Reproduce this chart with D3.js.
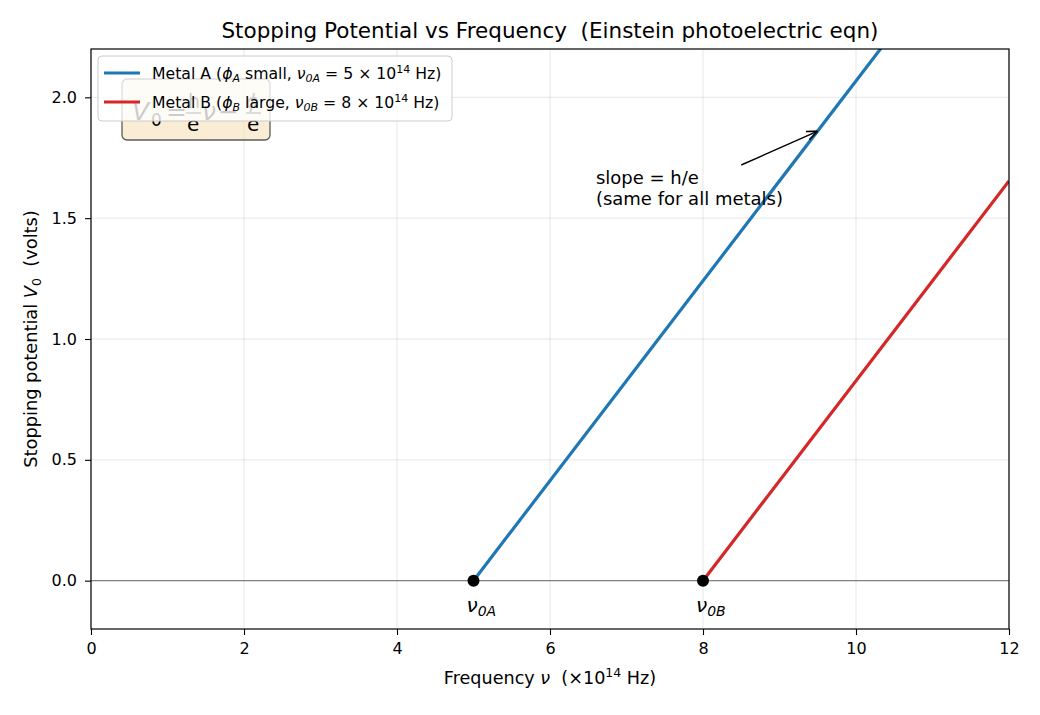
<!DOCTYPE html>
<html>
<head>
<meta charset="utf-8">
<style>
  body { margin: 0; background: #fff; }
  svg text { font-family: "DejaVu Sans", sans-serif; fill: #000; white-space: pre; }
</style>
<script src="https://cdn.jsdelivr.net/npm/d3@7"></script>
</head>
<body>
<div id="chart"></div>
<script>
// ---- data ----
var seriesNames = ["Metal A", "Metal B"];
var seriesColors = ["#1f77b4", "#d62728"];
var thresholds = [5, 8];                 // nu_0 in 1e14 Hz
var lineA = [[5, 0], [12, 2.895]];       // V0 vs nu
var lineB = [[8, 0], [12, 1.654]];
var xTicks = [0, 2, 4, 6, 8, 10, 12];
var yTicks = [0, 0.5, 1.0, 1.5, 2.0];
var arrowFrom = [8.5, 1.72], arrowTo = [9.5, 1.86];
var noteAt = [6.6, 1.55];

var W = 1040, H = 715;
var margin = {top: 49, right: 31, bottom: 86, left: 91};
var width = W - margin.left - margin.right,
    height = H - margin.top - margin.bottom;

var svg = d3.select("#chart").append("svg")
    .attr("width", W)
    .attr("height", H);

var defs = svg.append("defs");
defs.append("clipPath").attr("id", "clip")
    .append("rect").attr("width", width).attr("height", height);
defs.append("marker")
    .attr("id", "arr")
    .attr("viewBox", "0 0 10 10")
    .attr("refX", 10).attr("refY", 5)
    .attr("markerWidth", 11).attr("markerHeight", 11)
    .attr("markerUnits", "userSpaceOnUse")
    .attr("orient", "auto")
    .append("path")
    .attr("d", "M0,1 L10,5 L0,9")
    .attr("fill", "none").attr("stroke", "#000").attr("stroke-width", 1.4);

var g = svg.append("g").attr("transform", "translate(" + margin.left + "," + margin.top + ")");

var x = d3.scaleLinear().domain([0, 12]).range([0, width]);
var y = d3.scaleLinear().domain([-0.2, 2.2]).range([height, 0]);

// grid
g.append("g").selectAll("line").data(xTicks).join("line")
    .attr("x1", d => x(d)).attr("x2", d => x(d))
    .attr("y1", 0).attr("y2", height)
    .attr("stroke", "#b0b0b0").attr("stroke-opacity", 0.3).attr("stroke-width", 1);
g.append("g").selectAll("line").data(yTicks).join("line")
    .attr("y1", d => y(d)).attr("y2", d => y(d))
    .attr("x1", 0).attr("x2", width)
    .attr("stroke", "#b0b0b0").attr("stroke-opacity", 0.3).attr("stroke-width", 1);

// zero line
g.append("line")
    .attr("x1", 0).attr("x2", width)
    .attr("y1", y(0)).attr("y2", y(0))
    .attr("stroke", "#808080").attr("stroke-width", 1.2);

// lines
var lines = g.append("g").attr("clip-path", "url(#clip)");
var line = d3.line().x(d => x(d[0])).y(d => y(d[1]));
[lineA, lineB].forEach(function(pts, i) {
    lines.append("path")
        .datum(pts)
        .attr("d", line)
        .attr("fill", "none")
        .attr("stroke", seriesColors[i])
        .attr("stroke-width", 3.2);
});

// threshold dots + labels
g.selectAll(".dot").data(thresholds).join("circle")
    .attr("class", "dot")
    .attr("cx", d => x(d)).attr("cy", y(0)).attr("r", 6)
    .attr("fill", "#000");

var subs = ["0A", "0B"];
thresholds.forEach(function(t, i) {
    var tx = g.append("text")
        .attr("x", x(t) - 7).attr("y", 612 - margin.top)
        .style("font-size", "20px");
    tx.append("tspan").attr("font-style", "italic").text("ν");
    tx.append("tspan").attr("font-style", "italic").attr("dy", 4).style("font-size", "14px").text(subs[i]);
});

// annotation
g.append("line")
    .attr("x1", x(arrowFrom[0])).attr("y1", y(arrowFrom[1]))
    .attr("x2", x(arrowTo[0])).attr("y2", y(arrowTo[1]))
    .attr("stroke", "#000").attr("stroke-width", 1.4)
    .attr("marker-end", "url(#arr)");
var note = g.append("text")
    .attr("x", x(noteAt[0])).attr("y", y(noteAt[1]) - 1)
    .style("font-size", "18px");
note.append("tspan").attr("x", x(noteAt[0])).attr("dy", "-21").text("slope = h/e");
note.append("tspan").attr("x", x(noteAt[0])).attr("dy", "21").text("(same for all metals)");

// axes
var xAxis = g.append("g")
    .attr("transform", "translate(0," + height + ")")
    .call(d3.axisBottom(x).tickValues(xTicks).tickSize(6).tickPadding(8).tickFormat(d3.format("d")));
var yAxis = g.append("g")
    .call(d3.axisLeft(y).tickValues(yTicks).tickSize(6).tickPadding(8).tickFormat(d3.format(".1f")));
[xAxis, yAxis].forEach(function(a) {
    a.selectAll("text").style("font-size", "16px").style("font-family", "DejaVu Sans").attr("fill", "#000");
    a.selectAll("line").attr("stroke", "#000").attr("stroke-width", 1.1);
    a.select(".domain").remove();
});
g.append("rect")
    .attr("width", width).attr("height", height)
    .attr("fill", "none").attr("stroke", "#000").attr("stroke-width", 1.2);

// formula box (sits under the legend)
var fb = g.append("g").attr("transform", "translate(31,30)");
fb.append("rect")
    .attr("width", 148).attr("height", 61).attr("rx", 5)
    .attr("fill", "#f5deb3").attr("fill-opacity", 0.55)
    .attr("stroke", "#333").attr("stroke-opacity", 0.8).attr("stroke-width", 1.3);
var ft = fb.append("g");
function fx(s, px, py, size, it) {
    ft.append("text").attr("x", px).attr("y", py)
        .style("font-size", size + "px")
        .attr("font-style", it ? "italic" : null)
        .text(s);
}
fx("V", 10, 41, 25, true);
fx("0", 29, 47, 17, false);
fx("=", 44, 41, 25, false);
ft.append("line").attr("x1", 64).attr("x2", 79).attr("y1", 34).attr("y2", 34).attr("stroke", "#000").attr("stroke-width", 1.3);
fx("h", 66, 29, 19, false);
fx("e", 65, 52, 20, false);
fx("ν", 80, 41, 25, true);
fx("−", 96, 41, 25, false);
ft.append("line").attr("x1", 124).attr("x2", 139).attr("y1", 34).attr("y2", 34).attr("stroke", "#000").attr("stroke-width", 1.3);
fx("ϕ", 124, 29, 19, true);
fx("e", 125, 52, 20, false);

// legend
var leg = g.append("g").attr("transform", "translate(7,7)");
leg.append("rect")
    .attr("width", 354).attr("height", 65).attr("rx", 4)
    .attr("fill", "#fff").attr("fill-opacity", 0.8)
    .attr("stroke", "#ccc").attr("stroke-width", 1);
var legParts = [
    ["ϕ", "A", " small, ", "ν", "0A", "5"],
    ["ϕ", "B", " large, ", "ν", "0B", "8"]
];
seriesNames.forEach(function(name, i) {
    var ly = 17 + i * 29;
    leg.append("line")
        .attr("x1", 6).attr("x2", 42).attr("y1", ly).attr("y2", ly)
        .attr("stroke", seriesColors[i]).attr("stroke-width", 3.2);
    var p = legParts[i];
    var t = leg.append("text").attr("x", 54).attr("y", ly + 6).style("font-size", "15.7px");
    t.append("tspan").text(name + " (");
    t.append("tspan").attr("font-style", "italic").text(p[0]);
    t.append("tspan").attr("font-style", "italic").attr("dy", 3).style("font-size", "11px").text(p[1]);
    t.append("tspan").attr("dy", -3).text(p[2]);
    t.append("tspan").attr("font-style", "italic").text(p[3]);
    t.append("tspan").attr("font-style", "italic").attr("dy", 3).style("font-size", "11px").text(p[4]);
    t.append("tspan").attr("dy", -3).text(" = " + p[5] + " × 10");
    t.append("tspan").attr("dy", -6).style("font-size", "11px").text("14");
    t.append("tspan").attr("dy", 6).text(" Hz)");
});

// title + axis labels
svg.append("text")
    .attr("x", margin.left + width / 2).attr("y", 38)
    .attr("text-anchor", "middle").style("font-size", "21.5px")
    .text("Stopping Potential vs Frequency  (Einstein photoelectric eqn)");

var xl = svg.append("text")
    .attr("x", margin.left + width / 2).attr("y", 684)
    .attr("text-anchor", "middle").style("font-size", "17.6px");
xl.append("tspan").text("Frequency ");
xl.append("tspan").attr("font-style", "italic").text("ν");
xl.append("tspan").text("  (×10");
xl.append("tspan").attr("dy", -7).style("font-size", "12.5px").text("14");
xl.append("tspan").attr("dy", 7).text(" Hz)");

var yl = svg.append("text")
    .attr("transform", "translate(37," + (margin.top + height / 2) + ") rotate(-90)")
    .attr("text-anchor", "middle").style("font-size", "17.8px");
yl.append("tspan").text("Stopping potential ");
yl.append("tspan").attr("font-style", "italic").text("V");
yl.append("tspan").attr("dy", 4).style("font-size", "12.5px").text("0");
yl.append("tspan").attr("dy", -4).text("  (volts)");
</script>
</body>
</html>
